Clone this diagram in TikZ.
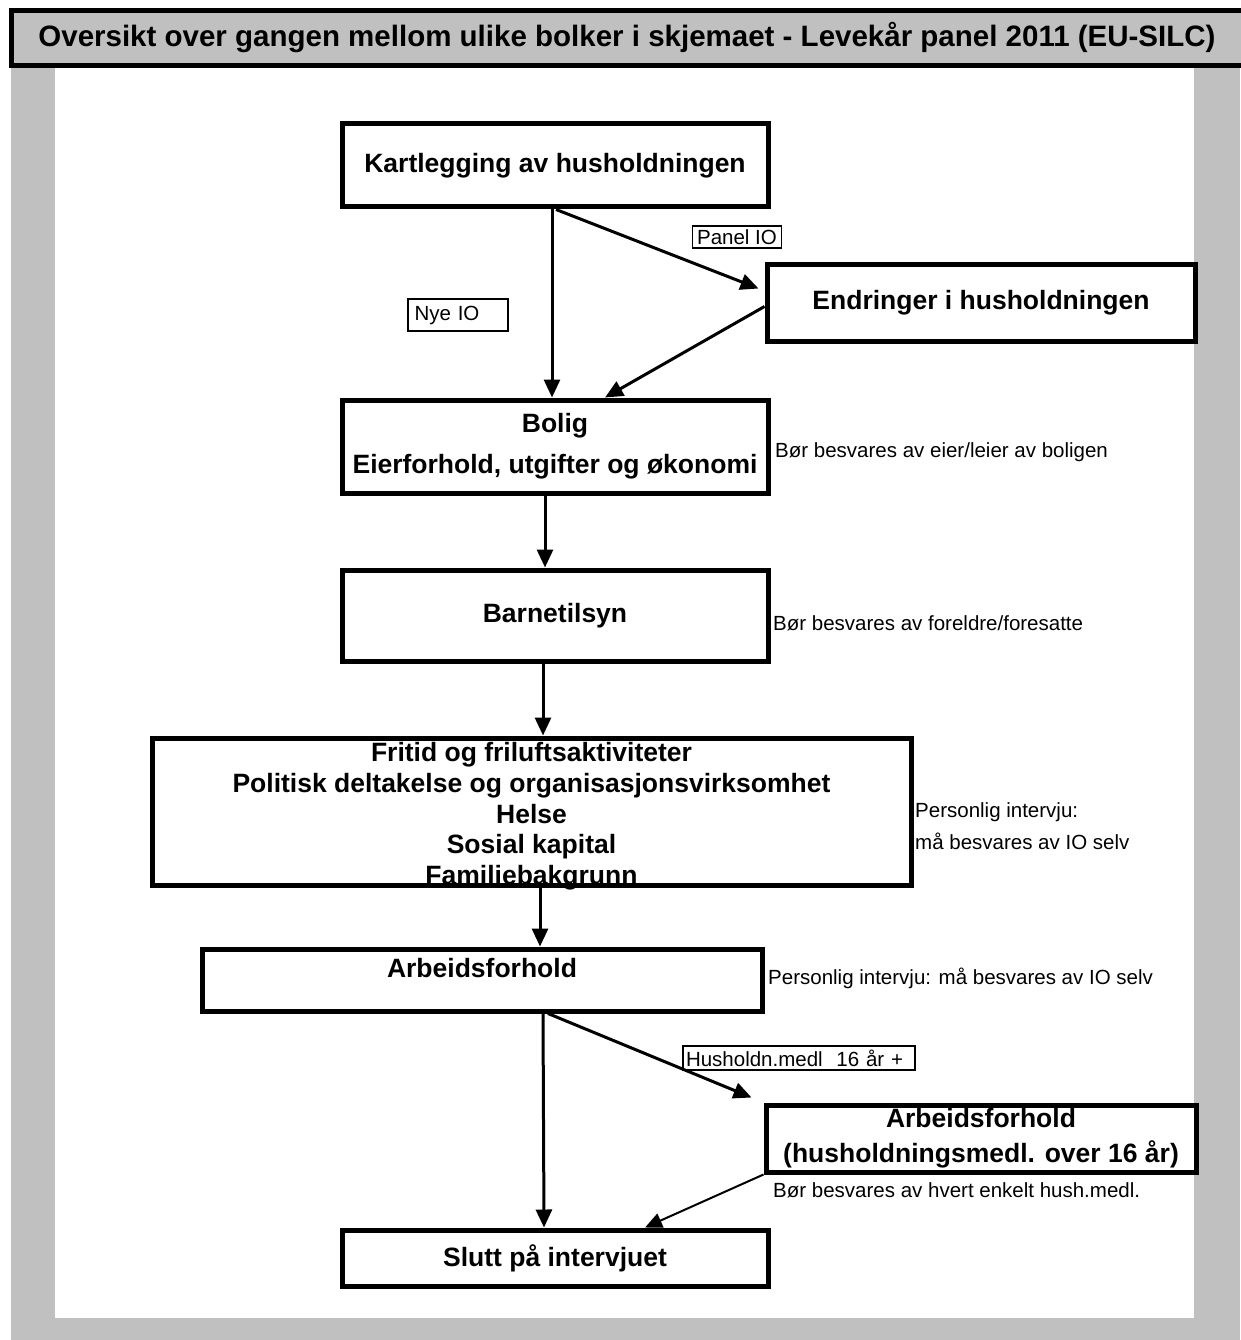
\documentclass[tikz,border=0pt]{standalone}
\usepackage{fontspec}
\setmainfont{Liberation Sans}
\usetikzlibrary{arrows.meta}
\definecolor{framegray}{HTML}{C0C0C0}
\begin{document}
\begin{tikzpicture}[x=1pt,y=-1pt,
  box/.style={draw, line width=5pt, fill=white, inner sep=0pt, align=center,
    font=\fontsize{26.5}{32}\selectfont\bfseries},
  boxtext/.style={inner sep=0pt, align=center, font=\fontsize{26.5}{30.8}\selectfont\bfseries},
  tag/.style={draw, line width=1.5pt, inner sep=0pt, fill=white,
    font=\fontsize{20.5}{24}\selectfont},
  note/.style={inner sep=0pt, anchor=west, align=left,
    font=\fontsize{20.5}{32}\selectfont},
  arr/.style={line width=3pt, -{Triangle[length=18pt,width=16pt]}},
  thinarr/.style={line width=2pt, -{Triangle[length=17pt,width=15pt]}}]
\useasboundingbox (0,0) rectangle (1240,1340);
% frame
\fill[framegray] (11,66) rectangle (1240,1340);
\fill[white] (55,68) rectangle (1194,1318);
\node[draw, line width=5pt, fill=framegray, minimum width=1240pt, minimum height=55pt, inner sep=0pt] (hdr) at (631,38.5) {};
\node[inner sep=0pt, font=\fontsize{29.5}{34}\selectfont\bfseries] (title) at (627,37)
  {Oversikt over gangen mellom ulike bolker i skjemaet - Levekår panel 2011 (EU-SILC)};
% boxes
\node[box, minimum width=426pt, minimum height=83pt] (kart) at (555,165.5) {Kartlegging av husholdningen};
\node[box, minimum width=428pt, minimum height=77pt] (endr) at (981,302.5) {Endringer i husholdningen};
\node[box, minimum width=426pt, minimum height=93pt, font=\fontsize{26.5}{41}\selectfont\bfseries] (bolig) at (555,446.5) {Bolig\\Eierforhold, utgifter og økonomi};
\node[box, minimum width=426pt, minimum height=91pt] (barn) at (555,615.5) {Barnetilsyn};
\node[box, minimum width=759pt, minimum height=147pt] (big) at (531.5,811.5) {};
\node[boxtext, anchor=north] (bigtxt) at (531.5,742)
  {Fritid og friluftsaktiviteter\\Politisk deltakelse og organisasjonsvirksomhet\\Helse\\Sosial kapital\\Familiebakgrunn};
\node[box, minimum width=560pt, minimum height=62pt, text height=19.4pt, text depth=24.4pt] (arb) at (482,980) {Arbeidsforhold};
\node[box, minimum width=430pt, minimum height=67pt, font=\fontsize{26.5}{35}\selectfont\bfseries] (arb2) at (981,1138.5) {Arbeidsforhold\\(husholdningsmedl. over 16 år)};
\node[box, minimum width=426pt, minimum height=56pt] (slutt) at (555,1258) {Slutt på intervjuet};
% tags
\node[tag, minimum width=89pt, minimum height=22pt] (panel) at (737,237) {Panel IO};
\node[tag, minimum width=100pt, minimum height=32pt, text width=93pt, align=left] (nye) at (458,315) {\hspace*{3pt}Nye IO};
\node[tag, minimum width=232pt, minimum height=24pt, text width=228pt, align=left] (hush) at (799,1058) {\hspace*{1pt}Husholdn.medl\ \ 16 år +};
% notes
\node[note] (n1) at (775,452) {Bør besvares av eier/leier av boligen};
\node[note] (n2) at (773,623) {Bør besvares av foreldre/foresatte};
\node[note] (n3) at (915,826) {Personlig intervju:\\må besvares av IO selv};
\node[note] (n4) at (768,978) {Personlig intervju: må besvares av IO selv};
\node[note] (n5) at (773,1190) {Bør besvares av hvert enkelt hush.medl.};
% connectors
\draw[arr] ([xshift=-3pt]kart.south) -- ([xshift=-3pt]bolig.north);
\draw[arr] ([xshift=1pt]kart.south) -- ([yshift=14pt,xshift=-6pt]endr.west);
\draw[arr] ([yshift=-4pt]endr.west) -- ([xshift=50pt]bolig.north);
\draw[arr] ([xshift=-10pt]bolig.south) -- ([xshift=-10pt]barn.north);
\draw[arr] ([xshift=-12pt]barn.south) -- ([xshift=11.5pt]big.north);
\draw[arr] ([xshift=8.5pt]big.south) -- ([xshift=58pt]arb.north);
\draw[arr] ([xshift=61pt]arb.south) -- ([xshift=-11pt]slutt.north);
\draw[arr] ([xshift=66pt]arb.south) -- ([xshift=-12pt,yshift=5pt]arb2.north west);
\draw[thinarr] (arb2.south west) -- ([xshift=90pt]slutt.north);
\end{tikzpicture}
\end{document}
